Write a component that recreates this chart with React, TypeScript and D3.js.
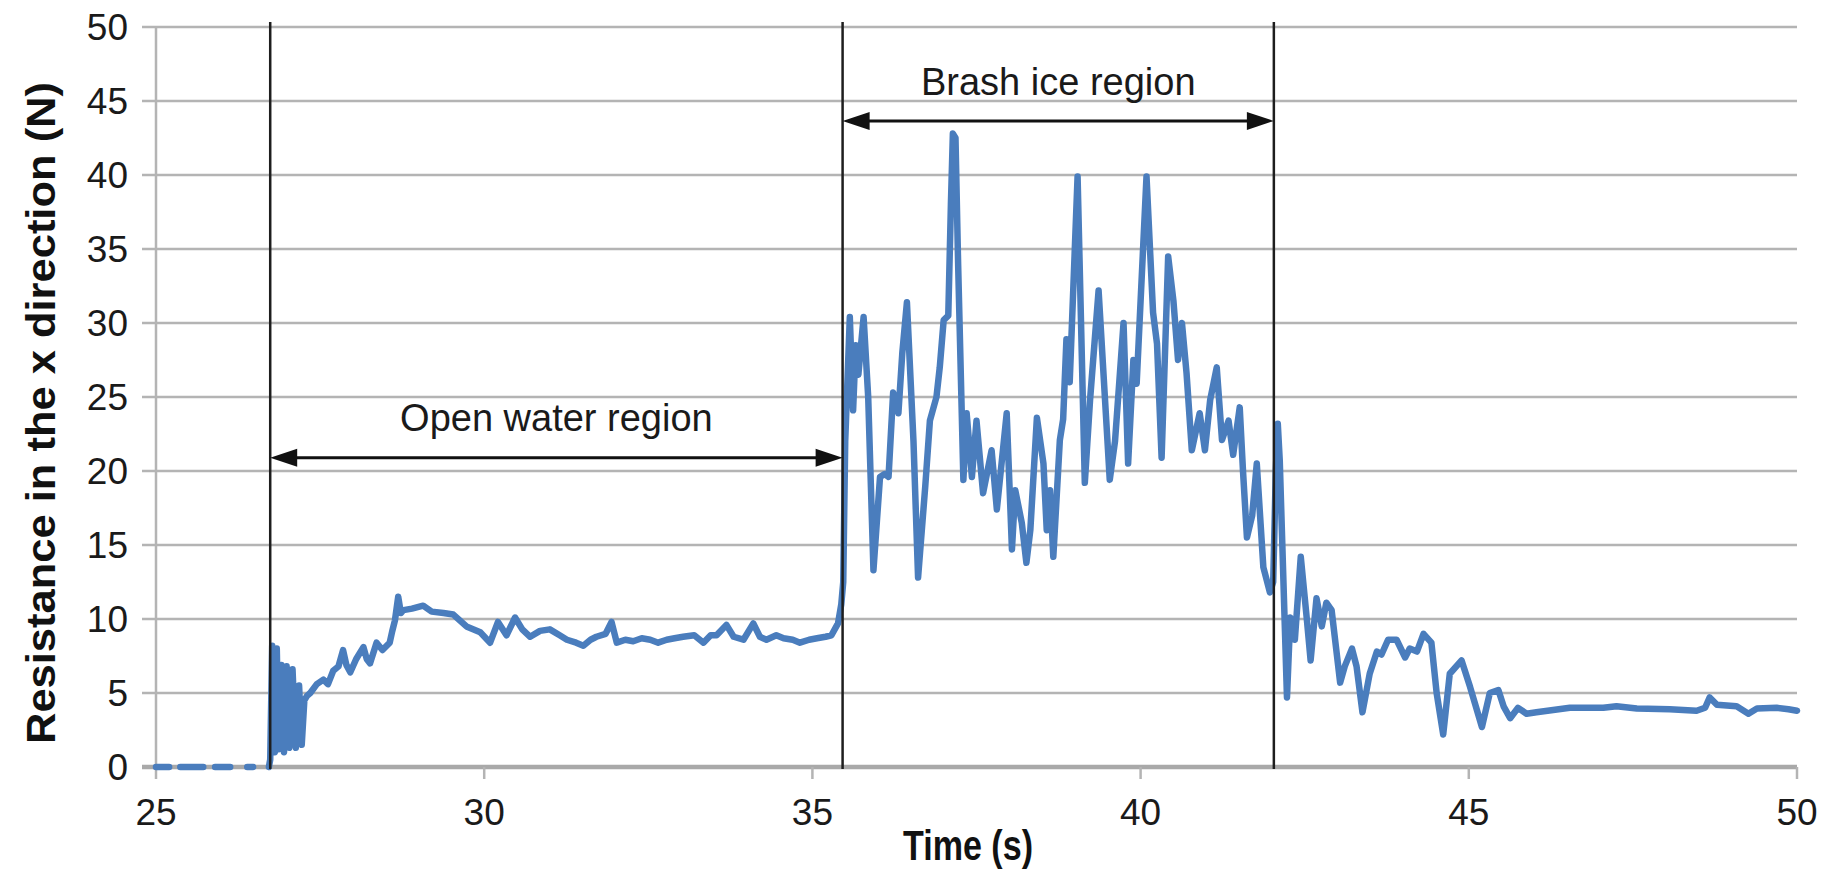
import React from 'react';
import * as d3 from 'd3';

// time (s) and resistance (N); null = gap in the record
const time = [
  25.0, 25.2, 25.28, 25.37, 25.72, 25.8, 25.9, 26.13, 26.25, 26.39, 26.48, 26.6, 26.72,
  26.74, 26.77, 26.81, 26.84, 26.87, 26.91, 26.95, 26.99, 27.03, 27.08, 27.13, 27.18, 27.22, 27.26,
  27.3, 27.35, 27.45, 27.55, 27.62, 27.7, 27.78, 27.85, 27.9, 27.96, 28.05, 28.16, 28.21, 28.26,
  28.36, 28.45, 28.56, 28.6, 28.64, 28.69, 28.73, 28.77, 28.9, 29.07, 29.2, 29.38, 29.53, 29.73,
  29.94, 30.09, 30.21, 30.34, 30.47, 30.58, 30.7, 30.85, 31.0, 31.15, 31.26, 31.4, 31.51, 31.62,
  31.71, 31.85, 31.94, 32.02, 32.15, 32.27, 32.4, 32.53, 32.65, 32.78, 32.9, 33.03, 33.2, 33.34,
  33.45, 33.54, 33.69, 33.8, 33.95, 34.1, 34.2, 34.3, 34.45, 34.56, 34.7, 34.81, 34.95, 35.07,
  35.2, 35.29, 35.39, 35.44, 35.47, 35.5, 35.57, 35.62, 35.66, 35.7, 35.78, 35.85, 35.93, 36.03,
  36.1, 36.16, 36.23, 36.31, 36.37, 36.44, 36.54, 36.61, 36.72, 36.79, 36.89, 36.94, 37.0, 37.07,
  37.11, 37.14, 37.18, 37.22, 37.3, 37.35, 37.43, 37.5, 37.6, 37.73, 37.81, 37.96, 38.04, 38.09,
  38.19, 38.26, 38.32, 38.42, 38.52, 38.57, 38.62, 38.67, 38.77, 38.82, 38.87, 38.92, 39.04, 39.15,
  39.23, 39.36, 39.53, 39.61, 39.74, 39.81, 39.89, 39.94, 40.09, 40.19, 40.25, 40.32, 40.42, 40.5,
  40.57, 40.63, 40.7, 40.78, 40.9, 40.98, 41.06, 41.16, 41.24, 41.34, 41.41, 41.51, 41.56, 41.62,
  41.7, 41.77, 41.87, 41.97, 42.02, 42.06, 42.09, 42.12, 42.23, 42.28, 42.35, 42.44, 42.53, 42.59,
  42.68, 42.76, 42.83, 42.91, 43.04, 43.11, 43.22, 43.29, 43.38, 43.49, 43.6, 43.67, 43.77, 43.9,
  44.03, 44.1, 44.21, 44.31, 44.43, 44.51, 44.61, 44.71, 44.89, 45.02, 45.2, 45.32, 45.45, 45.53,
  45.63, 45.75, 45.88, 46.03, 46.54, 47.05, 47.25, 47.56, 48.06, 48.47, 48.6, 48.67, 48.78, 49.08,
  49.26, 49.39, 49.69, 49.87, 50.0,
];
const force = [
  0, 0, null, 0, 0, null, 0, 0, null, 0, 0, null, 0,
  0.5, 8.2, 1.0, 8.0, 1.2, 6.9, 1.0, 6.8, 1.3, 6.6, 1.3, 5.5, 1.5, 4.5,
  4.8, 5.0, 5.6, 5.9, 5.6, 6.5, 6.8, 7.9, 6.9, 6.4, 7.3, 8.1, 7.3, 7.0,
  8.4, 7.9, 8.4, 9.2, 9.9, 11.5, 10.4, 10.6, 10.7, 10.9, 10.5, 10.4, 10.3, 9.5,
  9.1, 8.4, 9.8, 8.9, 10.1, 9.3, 8.8, 9.2, 9.3, 8.9, 8.6, 8.4, 8.2, 8.6,
  8.8, 9.0, 9.8, 8.4, 8.6, 8.5, 8.7, 8.6, 8.4, 8.6, 8.7, 8.8, 8.9, 8.4,
  8.9, 8.9, 9.6, 8.8, 8.6, 9.7, 8.8, 8.6, 8.9, 8.7, 8.6, 8.4, 8.6, 8.7,
  8.8, 8.9, 9.7, 11.0, 12.5, 22, 30.4, 24.1, 28.5, 26.5, 30.4, 25, 13.3, 19.6,
  19.8, 19.6, 25.3, 23.9, 28, 31.4, 22, 12.8, 19, 23.4, 25, 27, 30.2, 30.5,
  38, 42.8, 42.5, 34, 19.4, 23.9, 19.6, 23.4, 18.5, 21.4, 17.4, 23.9, 14.7, 18.7,
  16.5, 13.8, 16.0, 23.6, 20.5, 16.0, 18.7, 14.2, 22.1, 23.5, 28.9, 26, 39.9, 19.2,
  24.8, 32.2, 19.4, 22, 30, 20.5, 27.5, 25.9, 39.9, 30.7, 28.6, 20.9, 34.5, 31.5,
  27.5, 30, 26.6, 21.4, 23.9, 21.4, 24.8, 27, 22.1, 23.4, 21.1, 24.3, 20, 15.5,
  17, 20.5, 13.5, 11.8, 12.5, 20, 23.2, 20.7, 4.7, 10.1, 8.6, 14.2, 10.1, 7.2,
  11.4, 9.5, 11.1, 10.6, 5.7, 6.8, 8.0, 6.8, 3.7, 6.3, 7.8, 7.6, 8.6, 8.6,
  7.4, 8.0, 7.8, 9.0, 8.4, 5.0, 2.2, 6.3, 7.2, 5.4, 2.7, 5.0, 5.2, 4.1,
  3.3, 4.0, 3.6, 3.7, 4.0, 4.0, 4.1, 3.95, 3.9, 3.8, 4.0, 4.7, 4.2, 4.1,
  3.6, 3.95, 4.0, 3.9, 3.8,
];

const xTicks = [25, 30, 35, 40, 45, 50];
const yTicks = [0, 5, 10, 15, 20, 25, 30, 35, 40, 45, 50];
// region boundaries (s) and their labels
const regionBounds = [26.74, 35.46, 42.03];
const regionLabels = ['Open water region', 'Brash ice region'];

const W = 1830;
const H = 872;
const FONT = "'Liberation Sans', Arial, sans-serif";

export default function App() {
  const x = d3.scaleLinear().domain([25, 50]).range([156, 1797]);
  const y = d3.scaleLinear().domain([0, 50]).range([767, 27]);

  const points = time.map((t, i) => ({ t, v: force[i] }));
  const line = d3
    .line<{ t: number; v: number | null }>()
    .defined((d) => d.v != null)
    .x((d) => x(d.t))
    .y((d) => y(d.v as number));

  // arrow rows for the two annotations
  const arrows = [
    { x1: x(regionBounds[0]), x2: x(regionBounds[1]), ay: y(20.9), ty: y(22.7), label: regionLabels[0] },
    { x1: x(regionBounds[1]), x2: x(regionBounds[2]), ay: y(43.65), ty: y(45.4), label: regionLabels[1] },
  ];

  return (
    <svg width={W} height={H} style={{ position: 'absolute', left: 0, top: 0, background: '#fff' }}>
      {/* grid */}
      {yTicks.map((v) => (
        <line key={'g' + v} x1={142} x2={x(50)} y1={y(v)} y2={y(v)}
          stroke={v === 0 ? '#a9a9a9' : '#b4b4b4'} strokeWidth={v === 0 ? 4.5 : 2.5} />
      ))}
      <line x1={x(25)} x2={x(25)} y1={y(50)} y2={y(0)} stroke="#b4b4b4" strokeWidth={2.5} />
      {xTicks.map((t) => (
        <line key={'xt' + t} x1={x(t)} x2={x(t)} y1={y(0)} y2={y(0) + 12} stroke="#b4b4b4" strokeWidth={2.5} />
      ))}

      {/* tick labels */}
      {yTicks.map((v) => (
        <text key={'yl' + v} x={128} y={y(v)} dy="0.35em" textAnchor="end"
          fontFamily={FONT} fontSize={37} fill="#1a1a1a">{v}</text>
      ))}
      {xTicks.map((t) => (
        <text key={'xl' + t} x={x(t)} y={825} textAnchor="middle"
          fontFamily={FONT} fontSize={37} fill="#1a1a1a">{t}</text>
      ))}

      {/* data */}
      <path d={line(points) || ''} fill="none" stroke="#4a7dbd" strokeWidth={6.5}
        strokeLinejoin="round" strokeLinecap="round" />

      {/* region boundaries */}
      {regionBounds.map((t) => (
        <line key={'rb' + t} x1={x(t)} x2={x(t)} y1={22} y2={y(0) + 2} stroke="#1e1e1e" strokeWidth={2.5} />
      ))}

      {/* double arrows + labels */}
      {arrows.map((a) => (
        <g key={a.label}>
          <line x1={a.x1 + 20} x2={a.x2 - 20} y1={a.ay} y2={a.ay} stroke="#111" strokeWidth={3} />
          <polygon points={`${a.x1},${a.ay} ${a.x1 + 27},${a.ay - 9} ${a.x1 + 27},${a.ay + 9}`} fill="#111" />
          <polygon points={`${a.x2},${a.ay} ${a.x2 - 27},${a.ay - 9} ${a.x2 - 27},${a.ay + 9}`} fill="#111" />
          <text x={(a.x1 + a.x2) / 2} y={a.ty} textAnchor="middle"
            fontFamily={FONT} fontSize={38} fill="#1a1a1a">{a.label}</text>
        </g>
      ))}

      {/* axis titles */}
      <text x={968} y={860} textAnchor="middle" fontFamily={FONT} fontSize={43}
        fontWeight="bold" fill="#111" textLength={130} lengthAdjust="spacingAndGlyphs">Time (s)</text>
      <text transform="translate(55,413) rotate(-90)" textAnchor="middle" fontFamily={FONT}
        fontSize={41} fontWeight="bold" fill="#111" textLength={662}
        lengthAdjust="spacingAndGlyphs">Resistance in the x direction (N)</text>
    </svg>
  );
}
